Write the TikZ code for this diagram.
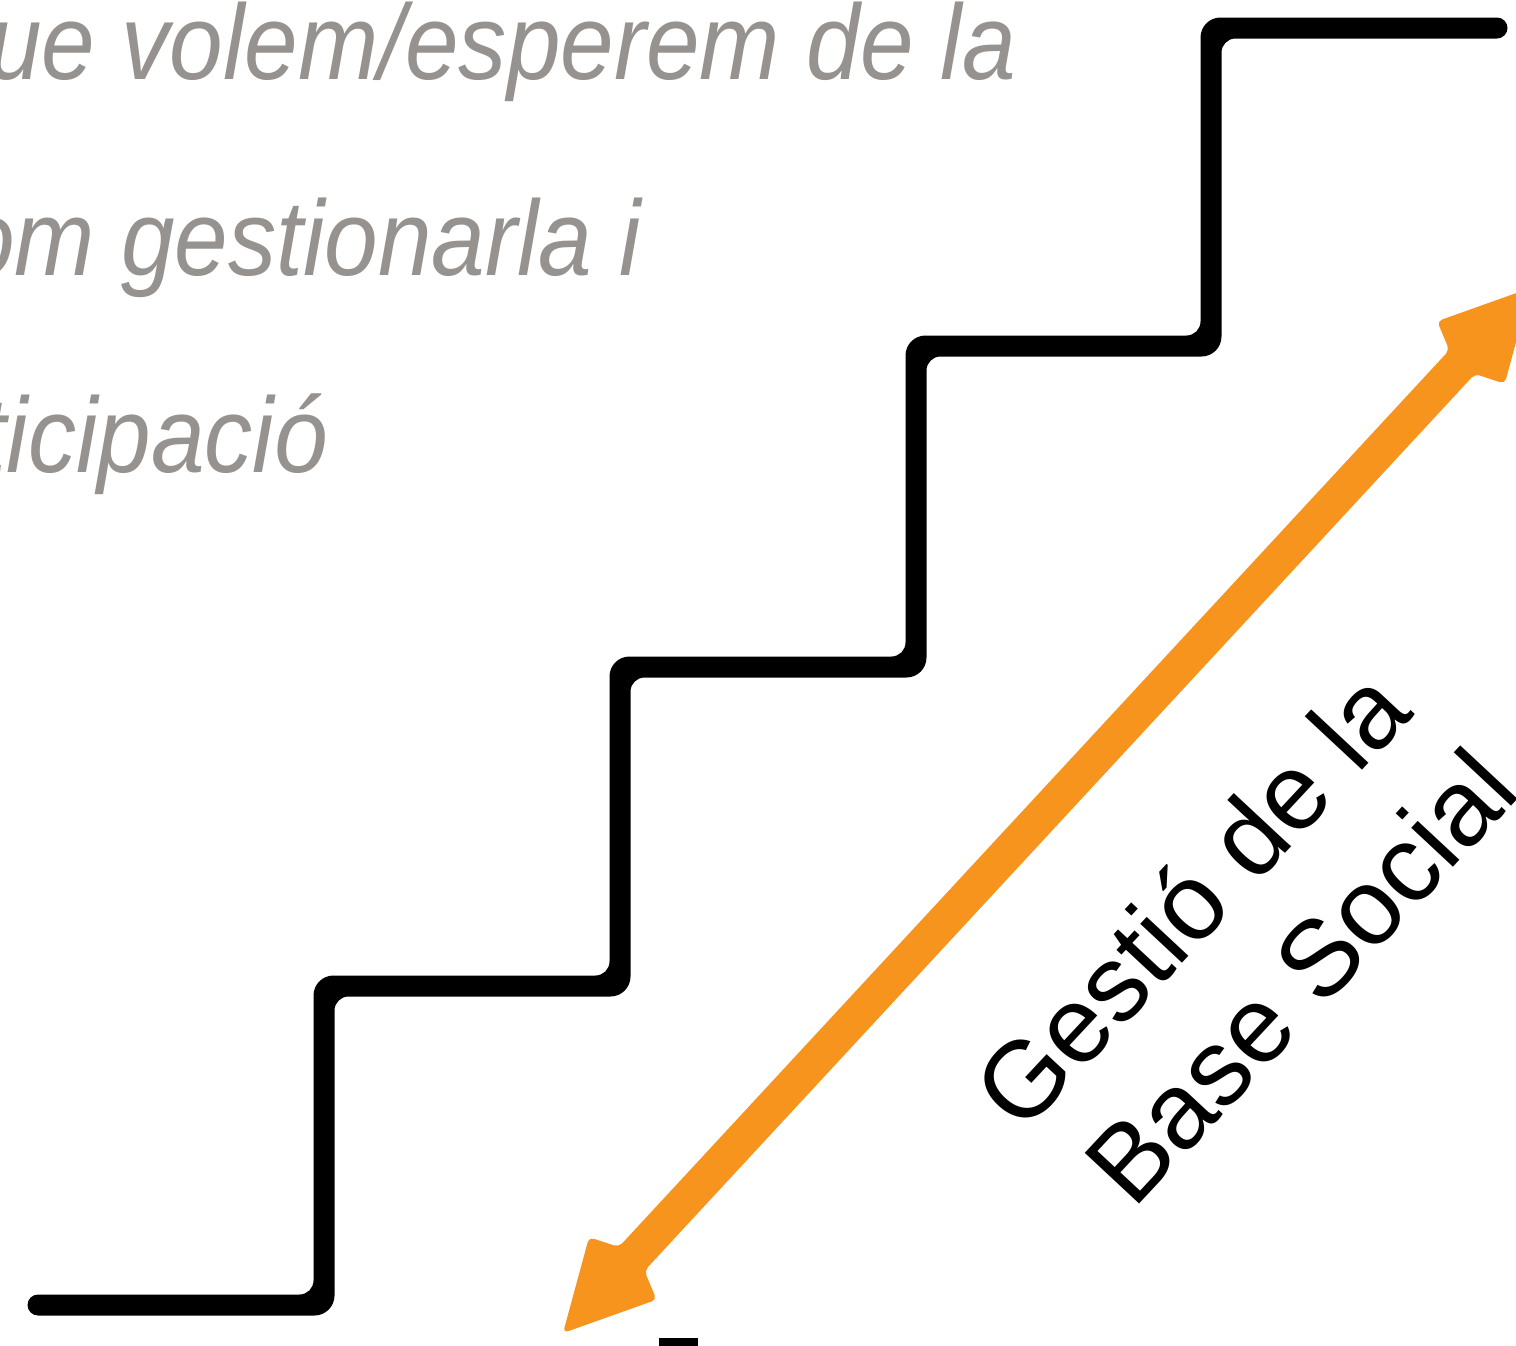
\documentclass[tikz,border=0pt]{standalone}
\usepackage{fontspec}
\setmainfont{Liberation Sans}
\newfontfamily\grayfont[FakeStretch=0.9]{Liberation Sans}
\definecolor{arroworange}{RGB}{247,148,30}
\definecolor{textgray}{RGB}{150,146,143}
\tikzset{
  graytxt/.style={inner sep=0pt, text=textgray, font=\grayfont\itshape\fontsize{107}{128}\selectfont},
  stairline/.style={fill=black},
  bigarrow/.style={fill=arroworange, rounded corners=5pt},
  label/.style={inner sep=0pt, text=black, rotate=47, font=\fontsize{108}{130}\selectfont}
}
\begin{document}
\begin{tikzpicture}[x=1pt,y=-1pt]
\useasboundingbox (0,0) rectangle (1516,1345);
\clip (0,0) rectangle (1516,1345);
% gray text (cut by the left edge)
\node[graytxt, anchor=base east] (t1) at (1016,79) {ue volem/esperem de la};
\node[graytxt, anchor=base east] (t2) at (641,275) {om gestionarla i};
\node[graytxt, anchor=base east] (t3) at (328,472) {ticipació};
% staircase (filled outline, rounded corners drawn as arcs)
\path[stairline]
 (38,1294.5)
 -- (299.5,1294.5) arc[start angle=90,end angle=0,radius=14]
 -- (313.5,995.5) arc[start angle=180,end angle=270,radius=20]
 -- (595.5,975.5) arc[start angle=90,end angle=0,radius=14]
 -- (609.5,676.5) arc[start angle=180,end angle=270,radius=20]
 -- (891.5,656.5) arc[start angle=90,end angle=0,radius=14]
 -- (905.5,355.5) arc[start angle=180,end angle=270,radius=20]
 -- (1186.5,335.5) arc[start angle=90,end angle=0,radius=14]
 -- (1200.5,37.5) arc[start angle=180,end angle=270,radius=20]
 -- (1497,17.5) arc[start angle=-90,end angle=90,radius=10.5]
 -- (1235.5,38.5) arc[start angle=270,end angle=180,radius=14]
 -- (1221.5,336.5) arc[start angle=0,end angle=90,radius=20]
 -- (940.5,356.5) arc[start angle=270,end angle=180,radius=14]
 -- (926.5,657.5) arc[start angle=0,end angle=90,radius=20]
 -- (644.5,677.5) arc[start angle=270,end angle=180,radius=14]
 -- (630.5,976.5) arc[start angle=0,end angle=90,radius=20]
 -- (348.5,996.5) arc[start angle=270,end angle=180,radius=14]
 -- (334.5,1295.5) arc[start angle=0,end angle=90,radius=20]
 -- (38,1315.5) arc[start angle=90,end angle=270,radius=10.5]
 -- cycle;
% double arrow
\begin{scope}[shift={(563,1333)}, rotate=47.2]
\path[bigarrow]
 (0,0) -- (88,46) -- (101,17.5) -- (1323.4,17.5) -- (1336.4,46) -- (1424.4,0)
 -- (1336.4,-46) -- (1323.4,-17.5) -- (101,-17.5) -- (88,-46) -- cycle;
\end{scope}
% label
\node[label] (lbl1) at (1190,898) {Gestió de la};
\node[label] (lbl2) at (1300,976) {Base Social};
% partial mark at the bottom
\fill[black] (659,1338) rectangle (698,1346);
\end{tikzpicture}
\end{document}
